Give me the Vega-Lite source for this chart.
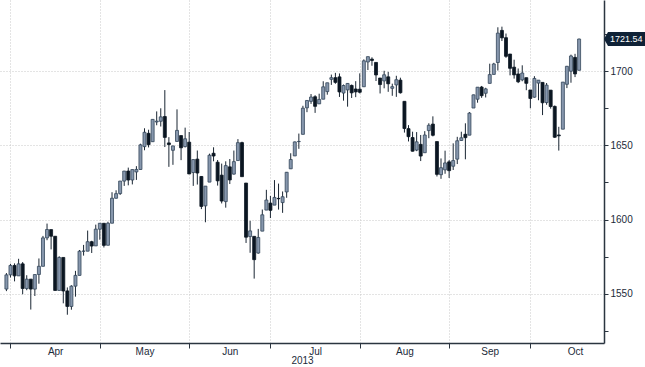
{
  "$schema": "https://vega.github.io/schema/vega-lite/v6.json",
  "width": 604,
  "height": 343,
  "autosize": "none",
  "padding": {"left": 0, "top": 0, "right": 41, "bottom": 24},
  "background": "#ffffff",
  "config": {
    "view": {"stroke": null},
    "font": "Liberation Sans",
    "axis": {"labelFont": "Liberation Sans", "titleFont": "Liberation Sans"}
  },
  "datasets": {
    "spx": [
      {"date":"2013-03-27","t":0,"open":1553.3,"high":1564.07,"low":1551.9,"close":1562.85},
      {"date":"2013-03-28","t":1,"open":1562.86,"high":1570.28,"low":1561.08,"close":1569.19},
      {"date":"2013-04-01","t":2,"open":1569.18,"high":1570.57,"low":1558.47,"close":1562.17},
      {"date":"2013-04-02","t":3,"open":1562.17,"high":1573.66,"low":1562.17,"close":1570.25},
      {"date":"2013-04-03","t":4,"open":1570.25,"high":1571.47,"low":1549.8,"close":1553.69},
      {"date":"2013-04-04","t":5,"open":1553.69,"high":1562.6,"low":1552.52,"close":1559.98},
      {"date":"2013-04-05","t":6,"open":1559.98,"high":1559.98,"low":1539.5,"close":1553.28},
      {"date":"2013-04-08","t":7,"open":1553.26,"high":1563.07,"low":1548.63,"close":1563.07},
      {"date":"2013-04-09","t":8,"open":1563.11,"high":1573.89,"low":1556.89,"close":1568.61},
      {"date":"2013-04-10","t":9,"open":1568.61,"high":1589.07,"low":1568.61,"close":1587.73},
      {"date":"2013-04-11","t":10,"open":1587.73,"high":1597.35,"low":1586.17,"close":1593.37},
      {"date":"2013-04-12","t":11,"open":1593.3,"high":1593.3,"low":1579.97,"close":1588.85},
      {"date":"2013-04-15","t":12,"open":1588.84,"high":1588.84,"low":1552.28,"close":1552.36},
      {"date":"2013-04-16","t":13,"open":1552.36,"high":1575.35,"low":1552.36,"close":1574.57},
      {"date":"2013-04-17","t":14,"open":1574.57,"high":1574.57,"low":1543.69,"close":1552.01},
      {"date":"2013-04-18","t":15,"open":1552.03,"high":1554.38,"low":1536.03,"close":1541.61},
      {"date":"2013-04-19","t":16,"open":1541.61,"high":1555.89,"low":1539.4,"close":1555.25},
      {"date":"2013-04-22","t":17,"open":1555.25,"high":1565.55,"low":1548.19,"close":1562.5},
      {"date":"2013-04-23","t":18,"open":1562.5,"high":1579.58,"low":1562.5,"close":1578.78},
      {"date":"2013-04-24","t":19,"open":1578.78,"high":1583.0,"low":1575.8,"close":1578.79},
      {"date":"2013-04-25","t":20,"open":1578.78,"high":1592.64,"low":1578.78,"close":1585.16},
      {"date":"2013-04-26","t":21,"open":1585.16,"high":1585.78,"low":1577.56,"close":1582.24},
      {"date":"2013-04-29","t":22,"open":1582.34,"high":1596.65,"low":1582.34,"close":1593.61},
      {"date":"2013-04-30","t":23,"open":1593.58,"high":1597.57,"low":1586.5,"close":1597.57},
      {"date":"2013-05-01","t":24,"open":1597.55,"high":1597.55,"low":1581.28,"close":1582.7},
      {"date":"2013-05-02","t":25,"open":1582.77,"high":1598.6,"low":1582.77,"close":1597.59},
      {"date":"2013-05-03","t":26,"open":1597.6,"high":1618.46,"low":1597.6,"close":1614.42},
      {"date":"2013-05-06","t":27,"open":1614.4,"high":1619.77,"low":1614.21,"close":1617.5},
      {"date":"2013-05-07","t":28,"open":1617.55,"high":1626.03,"low":1616.64,"close":1625.96},
      {"date":"2013-05-08","t":29,"open":1625.95,"high":1632.78,"low":1622.7,"close":1632.69},
      {"date":"2013-05-09","t":30,"open":1632.69,"high":1635.01,"low":1623.09,"close":1626.67},
      {"date":"2013-05-10","t":31,"open":1626.69,"high":1633.7,"low":1623.71,"close":1633.7},
      {"date":"2013-05-13","t":32,"open":1632.1,"high":1636.0,"low":1626.74,"close":1633.77},
      {"date":"2013-05-14","t":33,"open":1633.75,"high":1651.1,"low":1633.75,"close":1650.34},
      {"date":"2013-05-15","t":34,"open":1649.13,"high":1661.49,"low":1646.68,"close":1658.78},
      {"date":"2013-05-16","t":35,"open":1658.07,"high":1660.51,"low":1648.6,"close":1650.47},
      {"date":"2013-05-17","t":36,"open":1652.45,"high":1667.47,"low":1652.45,"close":1667.47},
      {"date":"2013-05-20","t":37,"open":1665.71,"high":1672.84,"low":1663.52,"close":1666.29},
      {"date":"2013-05-21","t":38,"open":1666.2,"high":1674.93,"low":1662.67,"close":1669.16},
      {"date":"2013-05-22","t":39,"open":1669.39,"high":1687.18,"low":1648.86,"close":1655.35},
      {"date":"2013-05-23","t":40,"open":1651.62,"high":1655.5,"low":1635.53,"close":1650.51},
      {"date":"2013-05-24","t":41,"open":1646.67,"high":1649.78,"low":1636.88,"close":1649.6},
      {"date":"2013-05-28","t":42,"open":1652.63,"high":1674.21,"low":1652.63,"close":1660.06},
      {"date":"2013-05-29","t":43,"open":1656.57,"high":1656.57,"low":1640.05,"close":1648.36},
      {"date":"2013-05-30","t":44,"open":1649.14,"high":1661.91,"low":1648.61,"close":1654.41},
      {"date":"2013-05-31","t":45,"open":1652.13,"high":1658.99,"low":1630.74,"close":1630.74},
      {"date":"2013-06-03","t":46,"open":1631.71,"high":1640.42,"low":1622.72,"close":1640.42},
      {"date":"2013-06-04","t":47,"open":1640.73,"high":1646.53,"low":1623.62,"close":1631.38},
      {"date":"2013-06-05","t":48,"open":1629.05,"high":1629.31,"low":1607.09,"close":1608.9},
      {"date":"2013-06-06","t":49,"open":1609.29,"high":1622.56,"low":1598.23,"close":1622.56},
      {"date":"2013-06-07","t":50,"open":1625.27,"high":1644.4,"low":1625.27,"close":1643.38},
      {"date":"2013-06-10","t":51,"open":1644.67,"high":1648.69,"low":1639.26,"close":1642.81},
      {"date":"2013-06-11","t":52,"open":1638.64,"high":1640.13,"low":1622.92,"close":1626.13},
      {"date":"2013-06-12","t":53,"open":1629.94,"high":1637.71,"low":1610.92,"close":1612.52},
      {"date":"2013-06-13","t":54,"open":1612.15,"high":1639.25,"low":1608.07,"close":1636.36},
      {"date":"2013-06-14","t":55,"open":1635.52,"high":1640.8,"low":1623.96,"close":1626.73},
      {"date":"2013-06-17","t":56,"open":1630.64,"high":1646.5,"low":1630.34,"close":1639.04},
      {"date":"2013-06-18","t":57,"open":1639.77,"high":1654.19,"low":1639.77,"close":1651.81},
      {"date":"2013-06-19","t":58,"open":1651.83,"high":1652.45,"low":1628.91,"close":1628.93},
      {"date":"2013-06-20","t":59,"open":1624.62,"high":1624.62,"low":1584.32,"close":1588.19},
      {"date":"2013-06-21","t":60,"open":1588.62,"high":1599.19,"low":1577.7,"close":1592.43},
      {"date":"2013-06-24","t":61,"open":1588.77,"high":1588.77,"low":1560.33,"close":1573.09},
      {"date":"2013-06-25","t":62,"open":1577.52,"high":1593.79,"low":1577.09,"close":1588.03},
      {"date":"2013-06-26","t":63,"open":1592.27,"high":1606.83,"low":1592.27,"close":1603.26},
      {"date":"2013-06-27","t":64,"open":1606.44,"high":1620.07,"low":1606.44,"close":1613.2},
      {"date":"2013-06-28","t":65,"open":1611.12,"high":1615.94,"low":1601.06,"close":1606.28},
      {"date":"2013-07-01","t":66,"open":1609.78,"high":1626.61,"low":1609.78,"close":1614.96},
      {"date":"2013-07-02","t":67,"open":1614.29,"high":1624.26,"low":1606.77,"close":1614.08},
      {"date":"2013-07-03","t":68,"open":1611.48,"high":1618.97,"low":1604.57,"close":1615.41},
      {"date":"2013-07-05","t":69,"open":1618.65,"high":1632.07,"low":1614.71,"close":1631.89},
      {"date":"2013-07-08","t":70,"open":1634.2,"high":1644.68,"low":1634.2,"close":1640.46},
      {"date":"2013-07-09","t":71,"open":1642.89,"high":1652.53,"low":1642.89,"close":1652.32},
      {"date":"2013-07-10","t":72,"open":1652.5,"high":1657.92,"low":1647.66,"close":1652.62},
      {"date":"2013-07-11","t":73,"open":1657.41,"high":1676.63,"low":1657.41,"close":1675.02},
      {"date":"2013-07-12","t":74,"open":1675.26,"high":1680.19,"low":1672.33,"close":1680.19},
      {"date":"2013-07-15","t":75,"open":1679.59,"high":1684.51,"low":1677.89,"close":1682.5},
      {"date":"2013-07-16","t":76,"open":1682.7,"high":1683.73,"low":1671.84,"close":1676.26},
      {"date":"2013-07-17","t":77,"open":1677.91,"high":1684.75,"low":1677.91,"close":1680.91},
      {"date":"2013-07-18","t":78,"open":1681.05,"high":1693.12,"low":1681.05,"close":1689.37},
      {"date":"2013-07-19","t":79,"open":1686.15,"high":1692.09,"low":1684.08,"close":1692.09},
      {"date":"2013-07-22","t":80,"open":1694.41,"high":1697.61,"low":1690.67,"close":1695.53},
      {"date":"2013-07-23","t":81,"open":1695.53,"high":1698.78,"low":1691.43,"close":1692.39},
      {"date":"2013-07-24","t":82,"open":1696.06,"high":1698.38,"low":1682.57,"close":1685.94},
      {"date":"2013-07-25","t":83,"open":1685.21,"high":1690.94,"low":1680.07,"close":1690.25},
      {"date":"2013-07-26","t":84,"open":1687.31,"high":1691.85,"low":1676.03,"close":1691.65},
      {"date":"2013-07-29","t":85,"open":1690.32,"high":1690.92,"low":1681.86,"close":1685.33},
      {"date":"2013-07-30","t":86,"open":1687.92,"high":1693.19,"low":1682.42,"close":1685.96},
      {"date":"2013-07-31","t":87,"open":1687.76,"high":1698.43,"low":1684.94,"close":1685.73},
      {"date":"2013-08-01","t":88,"open":1689.42,"high":1707.85,"low":1689.42,"close":1706.87},
      {"date":"2013-08-02","t":89,"open":1706.1,"high":1709.67,"low":1700.68,"close":1709.67},
      {"date":"2013-08-05","t":90,"open":1708.01,"high":1709.24,"low":1703.55,"close":1707.14},
      {"date":"2013-08-06","t":91,"open":1705.79,"high":1705.79,"low":1693.29,"close":1697.37},
      {"date":"2013-08-07","t":92,"open":1695.3,"high":1695.3,"low":1684.91,"close":1690.91},
      {"date":"2013-08-08","t":93,"open":1693.35,"high":1700.18,"low":1688.38,"close":1697.48},
      {"date":"2013-08-09","t":94,"open":1696.1,"high":1699.42,"low":1686.02,"close":1691.42},
      {"date":"2013-08-12","t":95,"open":1688.37,"high":1691.49,"low":1683.35,"close":1689.47},
      {"date":"2013-08-13","t":96,"open":1690.65,"high":1696.81,"low":1682.62,"close":1694.16},
      {"date":"2013-08-14","t":97,"open":1693.88,"high":1695.52,"low":1684.83,"close":1685.39},
      {"date":"2013-08-15","t":98,"open":1679.61,"high":1679.61,"low":1658.59,"close":1661.32},
      {"date":"2013-08-16","t":99,"open":1661.22,"high":1663.6,"low":1652.61,"close":1655.83},
      {"date":"2013-08-19","t":100,"open":1655.25,"high":1659.18,"low":1645.84,"close":1646.06},
      {"date":"2013-08-20","t":101,"open":1646.81,"high":1658.92,"low":1646.08,"close":1652.35},
      {"date":"2013-08-21","t":102,"open":1650.66,"high":1656.99,"low":1639.43,"close":1642.8},
      {"date":"2013-08-22","t":103,"open":1645.03,"high":1659.55,"low":1645.03,"close":1656.96},
      {"date":"2013-08-23","t":104,"open":1659.92,"high":1664.85,"low":1654.81,"close":1663.5},
      {"date":"2013-08-26","t":105,"open":1664.29,"high":1669.51,"low":1656.02,"close":1656.78},
      {"date":"2013-08-27","t":106,"open":1652.54,"high":1652.54,"low":1629.05,"close":1630.48},
      {"date":"2013-08-28","t":107,"open":1630.25,"high":1641.18,"low":1627.47,"close":1634.96},
      {"date":"2013-08-29","t":108,"open":1633.5,"high":1646.41,"low":1630.88,"close":1638.17},
      {"date":"2013-08-30","t":109,"open":1638.89,"high":1640.08,"low":1628.05,"close":1632.97},
      {"date":"2013-09-03","t":110,"open":1635.95,"high":1651.35,"low":1633.41,"close":1639.77},
      {"date":"2013-09-04","t":111,"open":1640.72,"high":1655.72,"low":1637.41,"close":1653.08},
      {"date":"2013-09-05","t":112,"open":1653.28,"high":1659.17,"low":1653.07,"close":1655.08},
      {"date":"2013-09-06","t":113,"open":1657.44,"high":1664.83,"low":1640.62,"close":1655.17},
      {"date":"2013-09-09","t":114,"open":1656.85,"high":1672.4,"low":1656.85,"close":1671.71},
      {"date":"2013-09-10","t":115,"open":1675.11,"high":1684.09,"low":1675.11,"close":1683.99},
      {"date":"2013-09-11","t":116,"open":1681.04,"high":1689.13,"low":1678.7,"close":1689.13},
      {"date":"2013-09-12","t":117,"open":1689.21,"high":1689.97,"low":1681.96,"close":1683.42},
      {"date":"2013-09-13","t":118,"open":1685.04,"high":1688.73,"low":1682.22,"close":1687.99},
      {"date":"2013-09-16","t":119,"open":1691.7,"high":1704.95,"low":1691.7,"close":1697.6},
      {"date":"2013-09-17","t":120,"open":1697.73,"high":1705.52,"low":1697.73,"close":1704.76},
      {"date":"2013-09-18","t":121,"open":1705.74,"high":1729.44,"low":1700.35,"close":1725.52},
      {"date":"2013-09-19","t":122,"open":1727.34,"high":1729.86,"low":1720.2,"close":1722.34},
      {"date":"2013-09-20","t":123,"open":1722.44,"high":1725.23,"low":1708.89,"close":1709.91},
      {"date":"2013-09-23","t":124,"open":1711.44,"high":1711.44,"low":1697.1,"close":1701.84},
      {"date":"2013-09-24","t":125,"open":1702.6,"high":1707.63,"low":1694.9,"close":1697.42},
      {"date":"2013-09-25","t":126,"open":1698.02,"high":1701.71,"low":1691.88,"close":1692.77},
      {"date":"2013-09-26","t":127,"open":1694.05,"high":1703.85,"low":1693.11,"close":1698.67},
      {"date":"2013-09-27","t":128,"open":1695.52,"high":1695.52,"low":1687.11,"close":1691.75},
      {"date":"2013-09-30","t":129,"open":1687.26,"high":1687.26,"low":1674.99,"close":1681.55},
      {"date":"2013-10-01","t":130,"open":1682.41,"high":1696.55,"low":1682.07,"close":1695.0},
      {"date":"2013-10-02","t":131,"open":1691.9,"high":1693.87,"low":1680.34,"close":1693.87},
      {"date":"2013-10-03","t":132,"open":1692.35,"high":1692.35,"low":1670.36,"close":1678.66},
      {"date":"2013-10-04","t":133,"open":1678.79,"high":1691.94,"low":1677.33,"close":1690.5},
      {"date":"2013-10-07","t":134,"open":1687.15,"high":1687.15,"low":1674.7,"close":1676.12},
      {"date":"2013-10-08","t":135,"open":1676.22,"high":1676.79,"low":1655.03,"close":1655.45},
      {"date":"2013-10-09","t":136,"open":1656.99,"high":1662.47,"low":1646.47,"close":1656.4},
      {"date":"2013-10-10","t":137,"open":1660.88,"high":1692.56,"low":1660.88,"close":1692.56},
      {"date":"2013-10-11","t":138,"open":1691.09,"high":1703.44,"low":1688.52,"close":1703.2},
      {"date":"2013-10-14","t":139,"open":1699.86,"high":1711.03,"low":1692.13,"close":1710.14},
      {"date":"2013-10-15","t":140,"open":1709.17,"high":1711.57,"low":1695.93,"close":1698.06},
      {"date":"2013-10-16","t":141,"open":1700.49,"high":1721.76,"low":1700.49,"close":1721.54}
    ]
  },
  "data": {"name": "spx"},
  "encoding": {
    "x": {
      "field": "t",
      "type": "quantitative",
      "scale": {"domain": [-0.35, 145.9], "nice": false, "zero": false},
      "axis": {
        "values": [1, 12, 23, 34, 45, 55, 65, 76, 87, 98, 109, 119, 129, 140],
        "labelExpr": "datum.value==12?'Apr':datum.value==34?'May':datum.value==55?'Jun':datum.value==76?'Jul':datum.value==98?'Aug':datum.value==119?'Sep':datum.value==140?'Oct':''",
        "labelOverlap": false,
        "labelFlush": false,
        "labelFontSize": 10,
        "labelColor": "#1c2b3a",
        "labelPadding": -2,
        "tickSize": 5,
        "tickColor": "#2b3540",
        "tickWidth": 1,
        "tickOpacity": {"condition": {"test": "indexof([1,23,45,65,87,109,129], datum.value) < 0", "value": 0}, "value": 1},
        "grid": true,
        "gridColor": "#c8c8c8",
        "gridDash": [1, 2],
        "gridWidth": 1,
        "gridOpacity": {"condition": {"test": "indexof([1,23,45,65,87,109,129], datum.value) < 0", "value": 0}, "value": 1},
        "domainColor": "#2b3540",
        "domainWidth": 1.5,
        "title": "2013",
        "titleFontSize": 10,
        "titleFontWeight": "normal",
        "titleColor": "#1c2b3a",
        "titlePadding": -1
      }
    },
    "y": {
      "type": "quantitative",
      "scale": {"domain": [1517.0, 1747.8], "nice": false, "zero": false}
    }
  },
  "layer": [
    {
      "mark": {"type": "rule", "color": "#1a2633", "strokeWidth": 1},
      "encoding": {
        "y": {
          "field": "low",
          "type": "quantitative",
          "axis": {
            "orient": "right",
            "values": [1525, 1550, 1575, 1600, 1625, 1650, 1675, 1700, 1725],
            "format": "d",
            "labelExpr": "datum.value % 50 == 0 ? datum.label : ''",
            "labelFontSize": 10,
            "labelColor": "#1c2b3a",
            "labelPadding": 2,
            "tickSize": 4,
            "tickColor": "#2b3540",
            "domainColor": "#2b3540",
            "domainWidth": 1.5,
            "grid": true,
            "gridColor": "#c8c8c8",
            "gridDash": [1, 2],
            "gridOpacity": {"condition": {"test": "datum.value % 50 != 0", "value": 0}, "value": 1},
            "title": null
          }
        },
        "y2": {"field": "high"}
      }
    },
    {
      "mark": {"type": "bar", "size": 3, "strokeWidth": 0.8},
      "encoding": {
        "y": {"field": "open", "type": "quantitative"},
        "y2": {"field": "close"},
        "fill": {"condition": {"test": "datum.close >= datum.open", "value": "#8797ad"}, "value": "#0b1622"},
        "stroke": {"condition": {"test": "datum.close >= datum.open", "value": "#34465a"}, "value": "#0b1622"}
      }
    },
    {
      "transform": [{"filter": "datum.t == 141"}],
      "mark": {"type": "point", "shape": "M0,0 L0.4,-0.7 L4.4,-0.7 L4.4,0.7 L0.4,0.7 Z", "size": 400, "filled": true, "color": "#0f2236", "opacity": 1},
      "encoding": {
        "x": {"value": 604},
        "y": {"field": "close", "type": "quantitative"}
      }
    },
    {
      "transform": [{"filter": "datum.t == 141"}],
      "mark": {"type": "text", "align": "left", "baseline": "middle", "dx": 6, "fontSize": 9, "color": "#ffffff", "font": "Liberation Sans"},
      "encoding": {
        "x": {"value": 604},
        "y": {"field": "close", "type": "quantitative"},
        "text": {"field": "close", "type": "quantitative", "format": ".2f"}
      }
    }
  ]
}
